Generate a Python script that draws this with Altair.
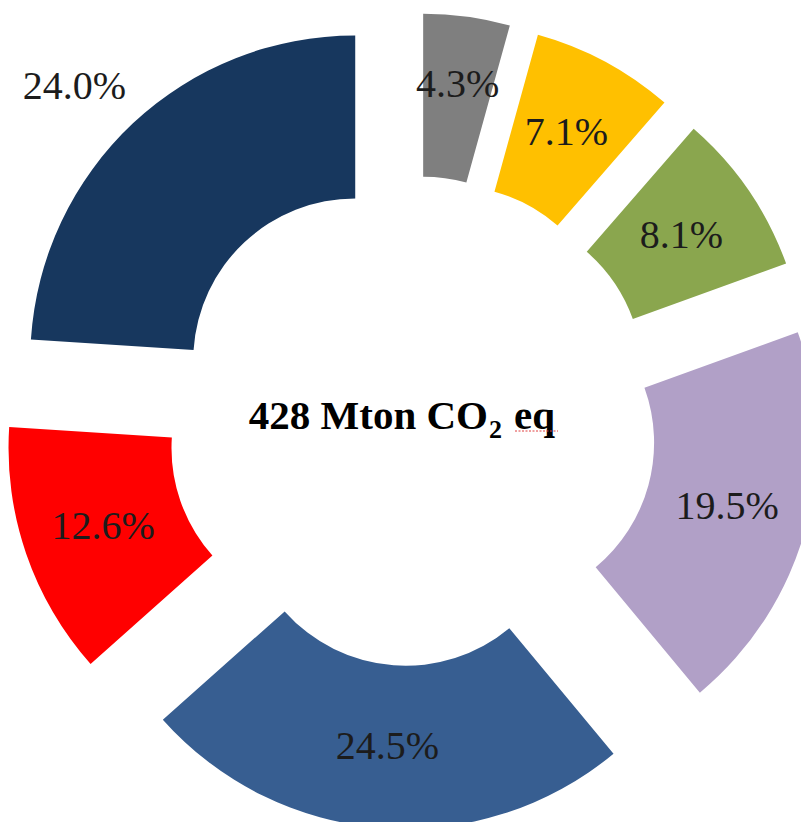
import altair as alt
import pandas as pd

# ---- data ----
labels = ["4.3%", "7.1%", "8.1%", "19.5%", "24.5%", "12.6%", "24.0%"]
shares = [4.3, 7.1, 8.1, 19.5, 24.5, 12.6, 24.0]
colors = ["#7F7F7F", "#FFC000", "#8AA64E", "#B1A0C7", "#375E91", "#FF0000", "#17375E"]
order = list(range(len(shares)))

center_main = "428 Mton CO"
center_sub = "2"
center_tail = "eq"

df = pd.DataFrame({"label": labels, "share": shares, "color": colors, "order": order})

# ---- layout constants ----
W, H = 801, 822
CX, CY = 412, 421          # ring centre
EXPLODE = 83               # explosion distance of each segment
R_IN, R_OUT = 162, 325
R_LAB = (R_IN + R_OUT) / 2
R_LAB_OUT = 392            # the 24.0% label sits outside the ring
R_LAB_GREY = 256           # the 4.3% label is nudged outward
SERIF = "Liberation Serif"

base = (
    alt.Chart(df)
    .transform_window(cum="sum(share)", sort=[alt.SortField("order")], frame=[None, 0])
    .transform_joinaggregate(total="sum(share)")
    .transform_calculate(
        start="2*PI*(datum.cum - datum.share)/datum.total",
        end="2*PI*datum.cum/datum.total",
    )
    .transform_calculate(mid="(datum.start + datum.end)/2")
    .transform_calculate(
        px=f"{CX} + {EXPLODE}*sin(datum.mid)",
        py=f"{CY} - {EXPLODE}*cos(datum.mid)",
        lr=(f"datum.label == '24.0%' ? {R_LAB_OUT} : "
            f"(datum.label == '4.3%' ? {R_LAB_GREY} : {R_LAB})"),
        la="datum.label == '24.0%' ? datum.mid - 0.045 : datum.mid",
    )
    .transform_calculate(
        lx="datum.px + datum.lr*sin(datum.la)",
        ly="datum.py - datum.lr*cos(datum.la)",
    )
)

arcs = base.mark_arc(radius=R_OUT, radius2=R_IN).encode(
    theta=alt.Theta("start:Q", scale=None, stack=None),
    theta2=alt.Theta2("end:Q"),
    x=alt.X("px:Q", scale=None, axis=None),
    y=alt.Y("py:Q", scale=None, axis=None),
    color=alt.Color("color:N", scale=None, legend=None),
)

pct = base.mark_text(font=SERIF, fontSize=40, fontWeight="normal", color="#1c1c1c",
                     align="center", baseline="middle").encode(
    x=alt.X("lx:Q", scale=None, axis=None),
    y=alt.Y("ly:Q", scale=None, axis=None),
    text="label:N",
)

t1 = alt.Chart(pd.DataFrame({"t": [center_main]})).mark_text(
    font=SERIF, fontSize=41, fontWeight="bold", color="#000000", align="right", baseline="alphabetic"
).encode(x=alt.value(488), y=alt.value(429), text="t:N")

t2 = alt.Chart(pd.DataFrame({"t": [center_sub]})).mark_text(
    font=SERIF, fontSize=26, fontWeight="bold", color="#000000", align="left", baseline="alphabetic"
).encode(x=alt.value(489), y=alt.value(438), text="t:N")

t3 = alt.Chart(pd.DataFrame({"t": [center_tail]})).mark_text(
    font=SERIF, fontSize=41, fontWeight="bold", color="#000000", align="left", baseline="alphabetic"
).encode(x=alt.value(514), y=alt.value(429), text="t:N")

squiggle = alt.Chart(pd.DataFrame({"a": [0]})).mark_rule(
    color="#E04040", strokeWidth=1, strokeDash=[2, 1.5]
).encode(x=alt.value(515), x2=alt.value(558), y=alt.value(431))

chart = (
    alt.layer(arcs, pct, t1, t2, t3, squiggle)
    .properties(width=W, height=H, autosize="none", padding=0, background="white")
    .configure_view(strokeWidth=0)
)

chart.save("out.html", embed_options={"renderer": "svg", "actions": False})
